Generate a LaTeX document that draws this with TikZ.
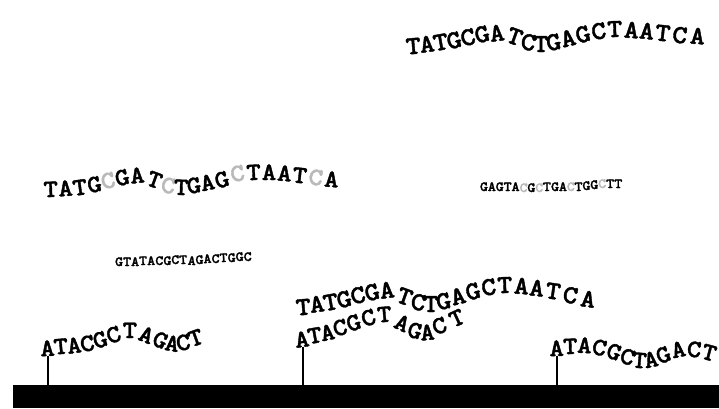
\documentclass[tikz,border=0pt]{standalone}
\usepackage{fontspec}
\usepackage{xcolor}
\newfontfamily\dnafont{lmmonolt10-bold.otf}[FakeBold=1.5, FakeStretch=1.1]
\newcommand\bigbase{\dnafont\fontsize{26}{26}\selectfont}
\newcommand\midbase{\dnafont\fontsize{25}{25}\selectfont}
\newcommand\smallbase{\dnafont\fontsize{14}{14}\selectfont}
\newcommand\fadedC{\color{gray!55}}
\tikzset{
  letter/.style = {anchor=base, inner sep=0pt, font=\bigbase},
  probe/.style = {line width=1.6pt, black},
  surface/.style = {
    rectangle, fill=black, inner sep=0pt, anchor=north west,
    minimum width=706pt, minimum height=23pt
  }
}

\begin{document}
\begin{tikzpicture}[x=1pt, y=-1pt]
\useasboundingbox (0,0) rectangle (719,408);

% free strands in solution
\foreach \ch/\x/\y/\r [count=\i] in {T/414/54/5, A/428/52/8, T/442/50/10,
    G/456/48/14, C/470/45/15, G/484/42/14, A/498/41/8, T/512/44/-20,
    C/527/50/-10, T/541/52/0, G/555/50/10, A/570/46/14, G/585/42/15,
    C/600/39/10, T/615/37/2, A/631/38/-4, A/646/39/-6, T/662/41/-6,
    C/679/43/-6, A/697/44/-4}
  \node[letter, rotate=\r] (top\i) at (\x,\y) {\ch};

\foreach \ch/\x/\y/\r [count=\i] in {T/51/197/2, A/66/196/4, T/81/195/8,
    G/96/192/12, {\fadedC C}/110/188/15, G/124/185/14, A/138/183/6,
    T/152/187/-20, {\fadedC C}/167/193/-10, T/181/195/-2, G/195/193/8,
    A/209/190/12, G/224/187/16, {\fadedC C}/239/181/12, T/254/180/3,
    A/269/180/0, A/284/181/-4, T/299/183/-6, {\fadedC C}/315/185/-6,
    A/331/187/-4}
  \node[letter, font=\midbase, rotate=\r] (left\i) at (\x,\y) {\ch};

\foreach \ch/\y/\r [count=\i] in {G/191/0, A/191/0, G/191/0, T/191/0, A/191/0,
    {\fadedC C}/192/-2, G/192/0, {\fadedC C}/192/0, T/191/2, G/191/0, A/191/0,
    {\fadedC C}/191/0, T/191/2, G/190/3, G/189/4, {\fadedC C}/188/4, T/188/2,
    T/188/0}
  \node[letter, font=\smallbase, rotate=\r] (right\i) at ({480+(\i-0.5)*7.9}, \y) {\ch};

\foreach \ch/\y/\r [count=\i] in {G/266/0, T/266/0, A/266/0, T/265/2, A/265/2,
    C/265/0, G/265/0, C/264/2, T/264/4, A/265/-3, G/264/2, A/263/4, C/263/2,
    T/262/3, G/262/3, G/261/4, C/261/4}
  \node[letter, font=\smallbase, rotate=\r] (mid\i) at ({115+(\i-0.5)*8.06}, \y) {\ch};

% surface with bound probes
\node[surface] (surface) at (13,385) {};

\foreach \ch/\y/\r [count=\i] in {A/356/3, T/354/5, A/353/8, C/351/12, G/347/18,
    C/342/20, T/338/0, A/342/-22, G/347/-25, A/351/-10, C/350/10, T/345/20}
  \node[letter, font=\midbase, rotate=\r] (pa\i) at ({41+(\i-0.5)*13.67}, \y) {\ch};

\foreach \ch/\x/\y/\r [count=\i] in {A/303/347/8, T/316/343/10, A/329/340/12,
    C/342/335/15, G/356/330/18, C/371/325/20, T/385/322/5, A/399/330/-25,
    G/413/338/-15, A/428/340/5, C/442/333/20, T/460/325/25}
  \node[letter, font=\midbase, rotate=\r] (pb\i) at (\x,\y) {\ch};

\foreach \ch/\x/\y/\r [count=\i] in {T/304/315/5, A/318/312/8, T/332/310/10,
    G/346/307/14, C/360/303/15, G/374/300/14, A/388/298/8, T/402/304/-20,
    C/417/310/-10, T/431/312/0, G/445/309/10, A/460/304/14, G/475/299/15,
    C/490/295/10, T/505/293/2, A/521/294/-4, A/536/296/-6, T/552/299/-8,
    C/569/303/-10, A/587/307/-8}
  \node[letter, rotate=\r] (hyb\i) at (\x,\y) {\ch};

\foreach \ch/\y/\r [count=\i] in {A/356/2, T/354/2, A/353/-3, C/355/-12, G/359/-20,
    C/364/-18, T/368/-5, A/367/12, G/362/22, A/357/12, C/357/-5, T/360/-15}
  \node[letter, font=\midbase, rotate=\r] (pc\i) at ({550+(\i-0.5)*13.67}, \y) {\ch};

\foreach \p in {pa1, pb1, pc1}
  \draw[probe] (\p.south) -- (\p.south |- surface.north);

\end{tikzpicture}
\end{document}
